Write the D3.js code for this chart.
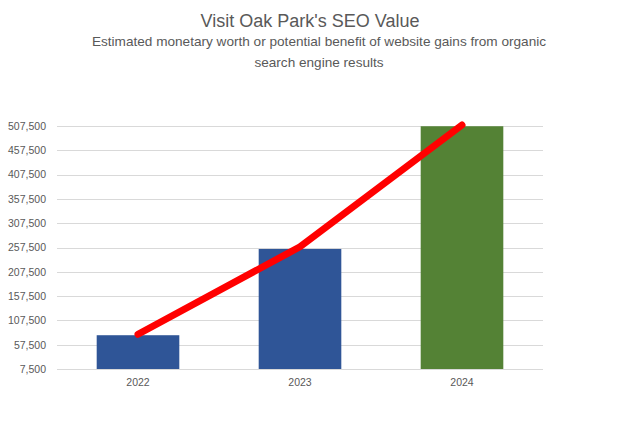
<!DOCTYPE html>
<html>
<head>
<meta charset="utf-8">
<script src="https://cdn.jsdelivr.net/npm/d3@7"></script>
<style>
	body { margin: 0; background: white; }
	text { font-family: "Liberation Sans", Arial, sans-serif; }
</style>
</head>
<body>
<script>
const years = ["2022", "2023", "2024"];
const seoValue = [77000, 254500, 507000];
const trendValue = [79000, 259000, 509500];
const barColors = ["#2f5597", "#2f5597", "#548235"];
const yTicks = [7500, 57500, 107500, 157500, 207500, 257500, 307500, 357500, 407500, 457500, 507500];

const W = 629, H = 430;
const margin = {top: 126, right: 86, bottom: 61, left: 57};

const svg = d3.select("body").append("svg")
	.attr("width", W)
	.attr("height", H);

svg.append("rect")
	.attr("width", W)
	.attr("height", H)
	.attr("fill", "white");

// titles
svg.append("text")
	.attr("x", 310)
	.attr("y", 27)
	.attr("text-anchor", "middle")
	.attr("font-size", 18)
	.attr("fill", "#595959")
	.text("Visit Oak Park's SEO Value");

svg.append("text")
	.attr("x", 319)
	.attr("y", 46)
	.attr("text-anchor", "middle")
	.attr("font-size", 13.6)
	.attr("fill", "#595959")
	.text("Estimated monetary worth or potential benefit of website gains from organic");

svg.append("text")
	.attr("x", 319)
	.attr("y", 67)
	.attr("text-anchor", "middle")
	.attr("font-size", 13.6)
	.attr("fill", "#595959")
	.text("search engine results");

const x = d3.scaleBand()
	.domain(years)
	.range([margin.left, W - margin.right])
	.paddingInner(0.49)
	.paddingOuter(0.245);

const y = d3.scaleLinear()
	.domain([7500, 507500])
	.range([H - margin.bottom, margin.top]);

// grid
svg.append("g")
	.selectAll("line")
	.data(yTicks)
	.join("line")
	.attr("x1", margin.left)
	.attr("x2", W - margin.right)
	.attr("y1", d => Math.round(y(d)) + 0.5)
	.attr("y2", d => Math.round(y(d)) + 0.5)
	.attr("stroke", "#d9d9d9")
	.attr("stroke-width", 1);

// y axis labels
const yAxis = svg.append("g")
	.attr("transform", `translate(${margin.left},0)`)
	.call(d3.axisLeft(y).tickValues(yTicks).tickFormat(d3.format(",")).tickSize(0).tickPadding(11));
yAxis.select(".domain").remove();
yAxis.selectAll("text")
	.attr("font-size", 10.5)
	.attr("fill", "#595959")
	.style("font-family", "Liberation Sans, Arial, sans-serif");

// x axis labels
const xAxis = svg.append("g")
	.attr("transform", `translate(0,${H - margin.bottom})`)
	.call(d3.axisBottom(x).tickSize(0).tickPadding(10));
xAxis.select(".domain").remove();
xAxis.selectAll("text")
	.attr("font-size", 10.5)
	.attr("fill", "#595959")
	.style("font-family", "Liberation Sans, Arial, sans-serif");

// bars
svg.append("g")
	.selectAll("rect")
	.data(seoValue)
	.join("rect")
	.attr("x", (d, i) => x(years[i]))
	.attr("y", d => y(d))
	.attr("width", x.bandwidth())
	.attr("height", d => y(7500) - y(d))
	.attr("fill", (d, i) => barColors[i]);

// trend line
const line = d3.line()
	.x((d, i) => x(years[i]) + x.bandwidth() / 2)
	.y(d => y(d));

svg.append("path")
	.datum(trendValue)
	.attr("d", line)
	.attr("fill", "none")
	.attr("stroke", "#ff0000")
	.attr("stroke-width", 7)
	.attr("stroke-linecap", "round")
	.attr("stroke-linejoin", "round");
</script>
</body>
</html>
